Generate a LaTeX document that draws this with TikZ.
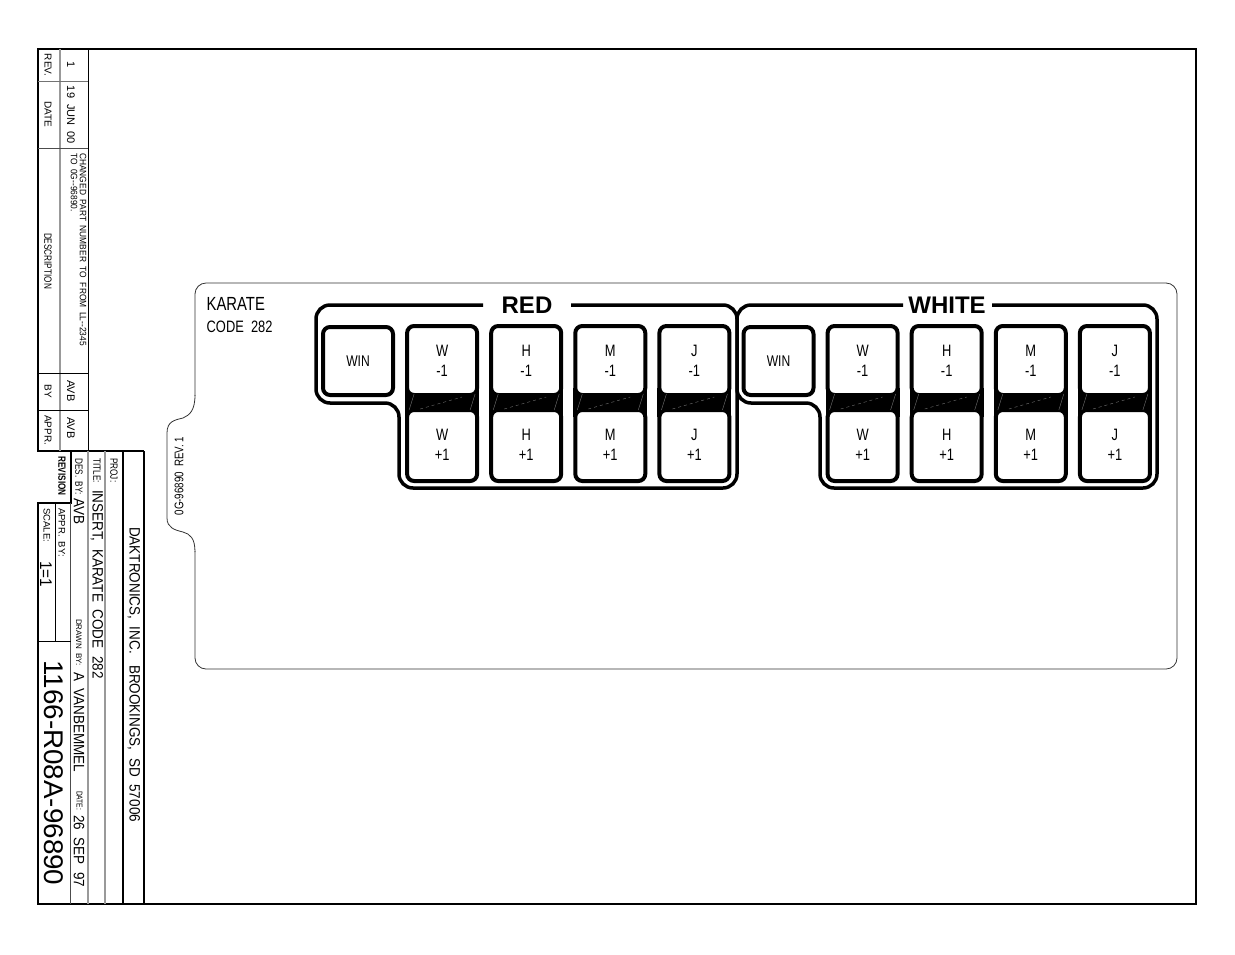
\documentclass[tikz,border=0pt]{standalone}
\usepackage{fontspec}
\setmainfont{Liberation Sans}
\newfontfamily\narrowfont[FakeStretch=0.78]{Liberation Sans}
\newfontfamily\blockfont[FakeStretch=0.9]{Liberation Sans}
\newfontfamily\partfont[FakeStretch=1.03]{Liberation Sans}
\newcommand{\fs}[1]{\fontsize{#1}{#1}\selectfont}
\tikzset{
  frameline/.style={line width=2pt,black},
  blockline/.style={line width=1pt,black},
  rowline/.style={line width=1.6pt,black!40},
  side/.style={rotate=-90,inner sep=0pt},
  sidestart/.style={rotate=-90,inner sep=0pt,anchor=west},
  keybox/.style={draw,fill=white,line width=4pt,rounded corners=7pt,minimum width=70pt,minimum height=69pt,inner sep=0pt},
  grouplinepath/.style={line width=3.5pt,rounded corners=14pt},
  keytext/.style={font=\narrowfont\fs{16.5},align=center,inner sep=0pt},
  bandline/.style={black!55,line width=0.4pt}
}
\begin{document}
\begin{tikzpicture}[x=1pt,y=-1pt]
\useasboundingbox (0,0) rectangle (1235,954);
% Drawing frame
\draw[frameline] (70.5,451) -- (70.5,503) -- (38,503) -- (38,904) -- (1196,904) -- (1196,49) -- (38,49) -- (38,451) -- (144,451);
% Revision block
\draw[rowline] (60,49) -- (60,451);
\draw[blockline,black!55] (38,81) -- (88,81);
\draw[blockline,black!70] (38,148) -- (88,148);
\draw[blockline] (38,373) -- (88,373);
\draw[blockline] (38,410) -- (88,410);
\draw[blockline] (88,49) -- (88,451);
\node[side,font=\fs{10}] (revhead) at (48,65) {REV.};
\node[side,font=\fs{10}] (datehead) at (48,114) {DATE};
\node[side,font=\narrowfont\fs{10.5}] (deschead) at (48,261) {DESCRIPTION};
\node[side,font=\fs{10}] (byhead) at (48,391) {BY};
\node[side,font=\fs{10}] (apprhead) at (48,430) {APPR.};
\node[side,font=\fs{11}] (revno) at (71,65) {1};
\node[side,font=\fs{11}] (revdate) at (71,115) {19\ \ JUN\ \ 00};
\node[sidestart,font=\blockfont\fs{9.3}] (descone) at (83,153) {CHANGED\ \ PART\ \ NUMBER\ \ TO\ \ FROM\ \ LL--2345};
\node[sidestart,font=\blockfont\fs{9.3}] (desctwo) at (74,153) {TO\ \ 0G--96890.};
\node[side,font=\fs{11}] (byname) at (71,391) {AVB};
\node[side,font=\fs{11}] (apprname) at (71,428) {AVB};
% Title block
\draw[blockline,black!70] (70.5,503) -- (70.5,904);
\draw[rowline] (88,451) -- (88,904);
\draw[rowline] (105,451) -- (105,904);
\draw[frameline] (123,451) -- (123,904);
\draw[frameline] (144,451) -- (144,904);
\draw[blockline] (55,503) -- (55,641);
\draw[blockline] (38,641) -- (70.5,641);
\node[side,font=\narrowfont\bfseries\fs{10.5}] (revision) at (62,476) {REVISION};
\node[sidestart,font=\fs{9.5}] (apprby) at (62,508) {APPR.\ \ BY:};
\node[sidestart,font=\fs{9.5}] (scale) at (47,508) {SCALE:};
\node[side,font=\blockfont\fs{17}] (ratio) at (46,574) {1=1};
\node[sidestart,font=\partfont\fs{27}] (partno) at (54,660) {1166-R08A-96890};
\node[sidestart,font=\narrowfont\fs{10.5}] (desby) at (79,458) {DES.\ \ BY:};
\node[sidestart,font=\blockfont\fs{15}] (desname) at (79,498) {AVB};
\node[sidestart,font=\fs{8}] (drawnby) at (79,619) {DRAWN\ \ BY:};
\node[sidestart,font=\blockfont\fs{15}] (drawnname) at (79,672) {A\ \ VANBEMMEL};
\node[sidestart,font=\narrowfont\fs{8.5}] (dateby) at (79.5,791) {DATE:};
\node[sidestart,font=\blockfont\fs{15}] (datename) at (79,815) {26\ \ SEP\ \ 97};
\node[sidestart,font=\narrowfont\fs{10.5}] (titlehead) at (97,458) {TITLE:};
\node[sidestart,font=\blockfont\fs{15}] (titlename) at (97,490) {INSERT,\ \ KARATE\ \ CODE\ \ 282};
\node[sidestart,font=\narrowfont\fs{10.5}] (projhead) at (114,458) {PROJ:};
\node[sidestart,font=\blockfont\fs{15}] (company) at (134,527) {DAKTRONICS,\ \ INC.\ \ \ BROOKINGS,\ \ SD\ \ 57006};
% Insert outline
\draw[line width=0.8pt,black!80,rounded corners=11pt] (207,283) -- (1177,283) -- (1177,669) -- (195,669) -- (195,283) -- (207,283);
\draw[white,line width=2pt] (195,396) -- (195,551);
\draw[line width=0.8pt,black!80] (195,395) .. controls (195,410) and (190,415) .. (183,418) .. controls (175,420) and (167,421) .. (167,433) -- (167,518) .. controls (167,528) and (175,530) .. (183,532) .. controls (190,534) and (195,538) .. (195,552);
\node[inner sep=0pt,font=\narrowfont\fs{12.5},rotate=90] (tabtext) at (179,476) {0G-96890\ \ REV.\ 1};
\node[anchor=west,inner sep=0pt,font=\narrowfont\fs{19}] (karate) at (206.5,304) {KARATE};
\node[anchor=west,inner sep=0pt,font=\narrowfont\fs{16.5}] (code) at (206.5,327) {CODE\ \ 282};
% Key groups
\draw[grouplinepath] (483,305) -- (316,305) -- (316,403) -- (399,403) -- (399,488) -- (737,488) -- (737,305) -- (571,305);
\draw[grouplinepath] (903,305) -- (737,305) -- (737,403) -- (820,403) -- (820,488) -- (1157,488) -- (1157,305) -- (992,305);
\node[font=\bfseries\fs{24}] (redtitle) at (527,305) {RED};
\node[font=\bfseries\fs{24}] (whitetitle) at (947,305) {WHITE};
% Keys
\foreach \k/\x in {0/358,5/778.5} {
  \node[keybox,minimum height=68pt] (win\k) at (\x,361) {};
  \node[keytext,font=\narrowfont\fs{15.5}] (wintext\k) at (\x,361) {WIN};
}
\foreach \k/\x/\lbl in {1/442.1/W,2/526.2/H,3/610.3/M,4/694.4/J,6/862.6/W,7/946.7/H,8/1030.8/M,9/1114.9/J} {
  \fill[black] (\x-37,388) rectangle (\x+37,417);
  \node[keybox] (upper\k) at (\x,360.5) {};
  \node[keybox,minimum height=71pt] (lower\k) at (\x,445.5) {};
  \draw[bandline,dashed] (\x-22,409) -- (\x+20,397);
  \draw[bandline] (\x-33,410) -- (\x-28,394);
  \draw[bandline] (\x+28,410) -- (\x+33,394);
  \node[keytext] (uppertext\k) at (\x,361) {\lbl\\[4pt]-1};
  \node[keytext] (lowertext\k) at (\x,445) {\lbl\\[4pt]+1};
}
\end{tikzpicture}
\end{document}
